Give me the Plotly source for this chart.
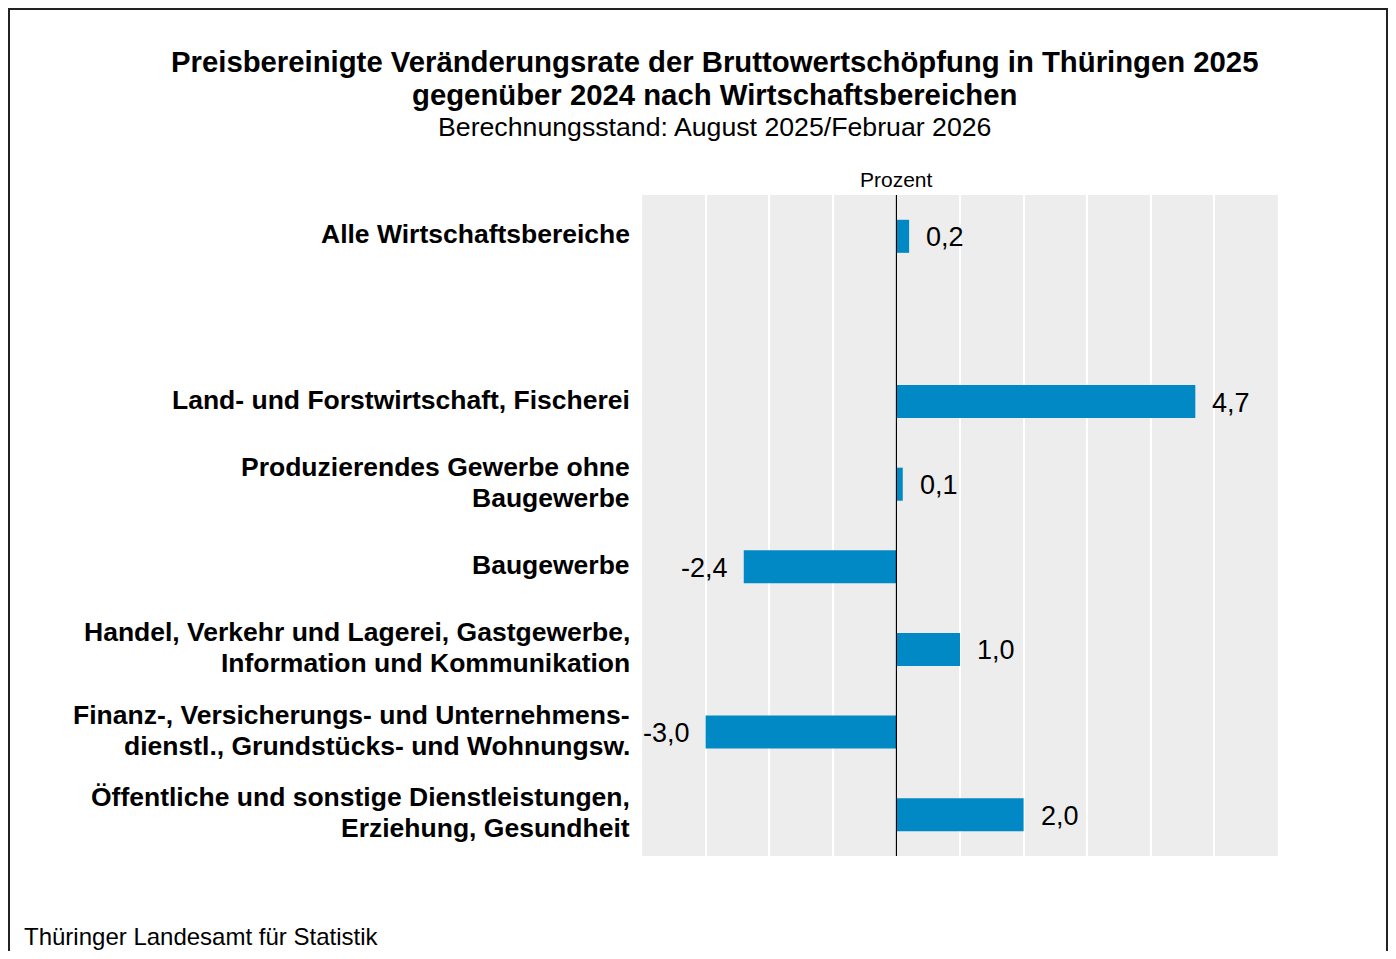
import plotly.graph_objects as go

categories = [
    "Alle Wirtschaftsbereiche",
    " ",
    "Land- und Forstwirtschaft, Fischerei",
    "Produzierendes Gewerbe ohne<br>Baugewerbe",
    "Baugewerbe",
    "Handel, Verkehr und Lagerei, Gastgewerbe,<br>Information und Kommunikation",
    "Finanz-, Versicherungs- und Unternehmens-<br>dienstl., Grundstücks- und Wohnungsw.",
    "Öffentliche und sonstige Dienstleistungen,<br>Erziehung, Gesundheit",
]
values = [0.2, None, 4.7, 0.1, -2.4, 1.0, -3.0, 2.0]
x_ticks = [-4, -3, -2, -1, 0, 1, 2, 3, 4, 5, 6]

FONT = "Liberation Sans, Arial, sans-serif"
BAR = "#0089C4"

OFF = 8  # page body margin
W, H = 1396 - 2 * OFF, 959 - 2 * OFF
L, T = 642 - OFF, 195 - OFF
pw, ph = 636, 661
R, B = W - L - pw, H - T - ph

def px_x(p):
    return (p - OFF - L) / pw

def px_y(p):
    return (T + ph - (p - OFF)) / ph

fig = go.Figure()
fig.add_trace(go.Bar(
    x=values, y=categories, orientation="h",
    marker=dict(color=BAR, line=dict(width=0)),
    width=0.4, showlegend=False, hoverinfo="skip",
))

annotations = []
# value labels
for c, v in zip(categories, values):
    if v is None:
        continue
    annotations.append(dict(
        x=v, y=c, xref="x", yref="y",
        text=f"{v:.1f}".replace(".", ","),
        showarrow=False,
        xanchor="left" if v >= 0 else "right",
        xshift=15 if v >= 0 else -14,
        yshift=-1,
        font=dict(family=FONT, size=27, color="#000000"),
    ))

# category labels (one annotation per line for tighter line spacing)
LINE = 31
for c in categories:
    if not c.strip():
        continue
    lines = c.split("<br>")
    n = len(lines)
    for i, ln in enumerate(lines):
        off = (i - (n - 1) / 2) * LINE
        annotations.append(dict(
            x=px_x(632), y=c, xref="paper", yref="y",
            text=f"<b>{ln}</b>", showarrow=False,
            xanchor="right", yanchor="middle",
            yshift=-off + 2,
            font=dict(family=FONT, size=26.5, color="#000000"),
        ))

annotations += [
    dict(x=px_x(714), y=px_y(61), xref="paper", yref="paper",
         text="<b>Preisbereinigte Veränderungsrate der Bruttowertschöpfung in Thüringen 2025</b>",
         showarrow=False, xanchor="center", yanchor="middle",
         font=dict(family=FONT, size=29.3, color="#000000")),
    dict(x=px_x(714), y=px_y(94), xref="paper", yref="paper",
         text="<b>gegenüber 2024 nach Wirtschaftsbereichen</b>",
         showarrow=False, xanchor="center", yanchor="middle",
         font=dict(family=FONT, size=29.3, color="#000000")),
    dict(x=px_x(714), y=px_y(127), xref="paper", yref="paper",
         text="Berechnungsstand: August 2025/Februar 2026",
         showarrow=False, xanchor="center", yanchor="middle",
         font=dict(family=FONT, size=26.7, color="#000000")),
    dict(x=0, y=1, xref="x", yref="paper",
         text="Prozent", showarrow=False, xanchor="center", yanchor="bottom",
         yshift=2, font=dict(family=FONT, size=21, color="#000000")),
    dict(x=px_x(23), y=px_y(OFF + H), xref="paper", yref="paper",
         text="Thüringer Landesamt für Statistik", showarrow=False,
         xanchor="left", yanchor="bottom", borderpad=0,
         font=dict(family=FONT, size=24, color="#000000")),
]

fig.update_layout(
    width=W, height=H,
    margin=dict(l=L, r=R, t=T, b=B, pad=0),
    paper_bgcolor="#FFFFFF",
    plot_bgcolor="#EDEDED",
    font=dict(family=FONT, color="#000000"),
    annotations=annotations,
    shapes=[
        dict(type="rect", xref="paper", yref="paper",
             x0=px_x(9), x1=px_x(OFF + W - 1), y0=px_y(975), y1=px_y(9),
             line=dict(color="#222222", width=2), fillcolor="rgba(0,0,0,0)",
             layer="below"),
        dict(type="line", xref="x", yref="paper", x0=0, x1=0, y0=0, y1=1,
             line=dict(color="#000000", width=1.2)),
    ],
)
fig.update_xaxes(
    range=[x_ticks[0], x_ticks[-1]], tickvals=x_ticks, showticklabels=False,
    showgrid=True, gridcolor="#FFFFFF", gridwidth=1.5,
    zeroline=False, showline=False, ticks="", fixedrange=True,
)
fig.update_yaxes(
    categoryorder="array", categoryarray=categories, autorange="reversed",
    showgrid=False, zeroline=False, showline=False, showticklabels=False,
    ticks="", fixedrange=True,
)

fig.write_html("out.html")
